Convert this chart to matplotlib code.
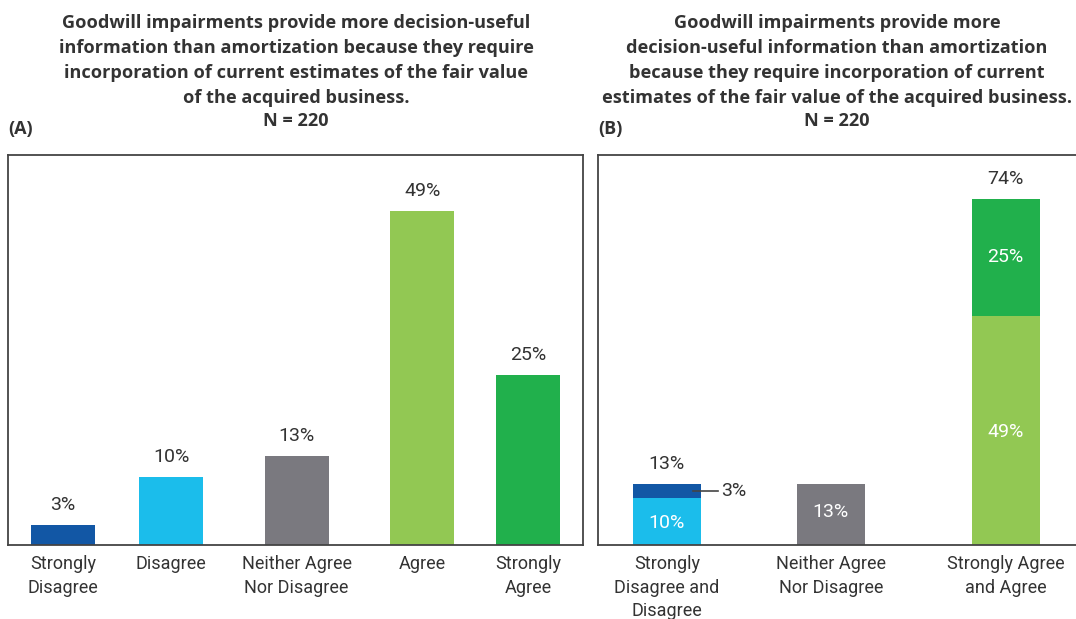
import numpy as np
import matplotlib
matplotlib.use("Agg")
import matplotlib.pyplot as plt

plt.rcParams['font.family'] = ['Roboto', 'DejaVu Sans']

# data
cats_a = ['Strongly\nDisagree', 'Disagree', 'Neither Agree\nNor Disagree', 'Agree', 'Strongly\nAgree']
vals_a = [3, 10, 13, 49, 25]
cols_a = ['#1257A5', '#1BBDEB', '#7A797F', '#92C853', '#21B04C']

cats_b = ['Strongly\nDisagree and\nDisagree', 'Neither Agree\nNor Disagree', 'Strongly Agree\nand Agree']
b_lower = [10, 13, 49]
b_upper = [3, 0, 25]
cols_lower = ['#1BBDEB', '#7A797F', '#92C853']
cols_upper = ['#1257A5', '#7A797F', '#21B04C']

title = ('Goodwill impairments provide more decision-useful\n'
         'information than amortization because they require\n'
         'incorporation of current estimates of the fair value\n'
         'of the acquired business.')
title_b = ('Goodwill impairments provide more\n'
           'decision-useful information than amortization\n'
           'because they require incorporation of current\n'
           'estimates of the fair value of the acquired business.')
n_text = 'N = 220'

# layout
W, H = 1076, 619
pos_a = [0, 0.93, 2.01, 3.09, 4.0]
pos_b = [0, 1, 2.067]
txt = '#333333'
edge = '#444444'
tfont = ['Open Sans', 'DejaVu Sans']

fig = plt.figure(figsize=(W / 100, H / 100), dpi=100)
ax1 = fig.add_axes([8 / W, 74 / H, 575 / W, 390 / H])
ax2 = fig.add_axes([598 / W, 74 / H, 500 / W, 390 / H])

for ax in (ax1, ax2):
    for s in ax.spines.values():
        s.set_color(edge)
        s.set_linewidth(1.3)
    ax.set_yticks([])
    ax.tick_params(axis='x', length=0, pad=7, labelsize=13, labelcolor=txt)

# panel A
ax1.bar(pos_a, vals_a, width=0.55, color=cols_a)
for x, v in zip(pos_a, vals_a):
    ax1.text(x, v + 1.6, f'{v}%', ha='center', va='bottom', fontsize=14, color=txt)
ax1.set_xlim(-0.473, 4.473)
ax1.set_ylim(0, 57.2)
ax1.set_xticks(pos_a)
ax1.set_xticklabels(cats_a, linespacing=1.45)

# panel B
ax2.bar(pos_b, b_lower, width=0.415, color=cols_lower)
ax2.bar(pos_b, b_upper, bottom=b_lower, width=0.415, color=cols_upper)
tot = [l + u for l, u in zip(b_lower, b_upper)]
for i, (x, t) in enumerate(zip(pos_b, tot)):
    if b_upper[i] == 0:
        continue
    ax2.text(x, t + 2.4, f'{t}%', ha='center', va='bottom', fontsize=14, color=txt)
for i, (x, l) in enumerate(zip(pos_b, b_lower)):
    dy = 0.6 if i == 1 else -0.3
    ax2.text(x, l / 2 + dy, f'{l}%', ha='center', va='center', fontsize=14, color='white')
ax2.text(pos_b[2], b_lower[2] + b_upper[2] / 2, f'{b_upper[2]}%', ha='center', va='center',
         fontsize=14, color='white')
# callout for the small segment
y3 = b_lower[0] + b_upper[0] / 2
ax2.plot([pos_b[0] + 0.16, pos_b[0] + 0.31], [y3, y3], color=edge, lw=1.2)
ax2.text(pos_b[0] + 0.33, y3, f'{b_upper[0]}%', ha='left', va='center', fontsize=14, color=txt)
ax2.set_xlim(-0.42, 2.63)
ax2.set_ylim(0, 83.4)
ax2.set_xticks(pos_b)
ax2.set_xticklabels(cats_b, linespacing=1.42)

for cx, t in [(296, title), (837, title_b)]:
    fig.text(cx / W, 1 - 14 / H, t, ha='center', va='top', fontsize=13.1,
             fontweight='bold', color=txt, linespacing=1.5, family=tfont)
    fig.text(cx / W, 1 - 121 / H, n_text, ha='center', va='center', fontsize=13.1,
             fontweight='bold', color=txt, family=tfont)
fig.text(8 / W, 1 - 129 / H, '(A)', ha='left', va='center', fontsize=13,
         fontweight='bold', color=txt, family=tfont)
fig.text(598 / W, 1 - 129 / H, '(B)', ha='left', va='center', fontsize=13,
         fontweight='bold', color=txt, family=tfont)

fig.savefig('out.png', dpi=100)
